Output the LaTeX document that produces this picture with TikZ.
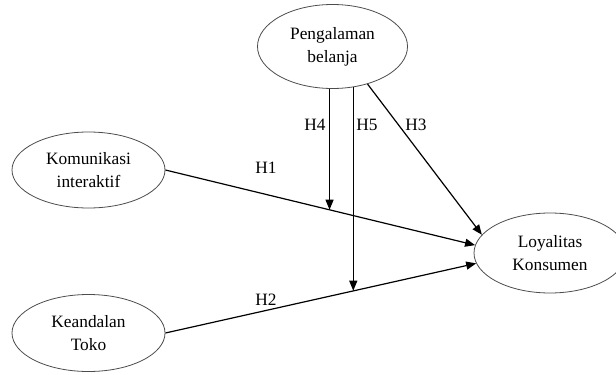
\documentclass[tikz,border=0pt]{standalone}
\usepackage{fontspec}
\setmainfont{Liberation Serif}
\usetikzlibrary{shapes.geometric,arrows.meta}
\begin{document}
\begin{tikzpicture}[x=0.75pt,y=-0.75pt,
  var/.style={ellipse,draw=black!70,line width=0.6pt,inner sep=0pt,align=center,font=\fontsize{13}{17.25}\selectfont},
  conn/.style={line width=0.9pt,-{Triangle[length=7.5pt,width=6pt]}},
  lab/.style={font=\fontsize{13}{15}\selectfont,inner sep=0pt}]
\useasboundingbox (0,0) rectangle (616,374);
\node[var,minimum width=112.5pt,minimum height=63pt] (peng) at (332.5,46.5) {Pengalaman\\belanja};
\node[var,minimum width=114.75pt,minimum height=57pt] (kom) at (88.5,170) {Komunikasi\\interaktif};
\node[var,minimum width=114.75pt,minimum height=57.75pt] (kea) at (88.5,333) {Keandalan\\Toko};
\node[var,minimum width=114pt,minimum height=60pt] (loy) at (550,253) {Loyalitas\\Konsumen};
\coordinate (m1) at (329.5,209.7);
\coordinate (m2) at (353,290.7);
\draw[conn] (kom.east) -- (loy.174);
\draw[conn] (kea.east) -- (loy.188);
\draw[conn] (peng.-47) -- (loy.165);
\draw[conn] (peng.-94) -- (peng.-94 |- m1);
\draw[conn] (peng.-63) -- (peng.-63 |- m2);
\node[lab] (h4) at (315,125) {H4};
\node[lab] (h5) at (367,125) {H5};
\node[lab] (h3) at (416,125) {H3};
\node[lab] (h1) at (266,168) {H1};
\node[lab] (h2) at (266,300) {H2};
\end{tikzpicture}
\end{document}
